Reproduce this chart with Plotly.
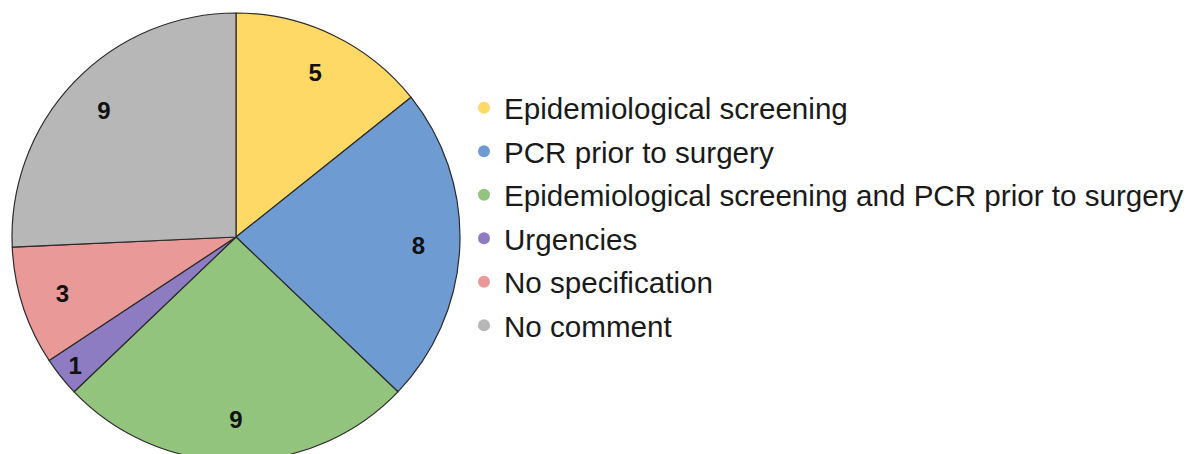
import plotly.graph_objects as go

categories = [
    "Epidemiological screening",
    "PCR prior to surgery",
    "Epidemiological screening and PCR prior to surgery",
    "Urgencies",
    "No specification",
    "No comment",
]
values = [5, 8, 9, 1, 3, 9]
colors = ["#FFD966", "#6F9BD3", "#93C47D", "#8E7CC3", "#EA9999", "#B7B7B7"]

W, H = 1192, 454
# pie geometry in figure pixels (page has an 8px body margin)
cx, cy, R = 228, 229, 224
pie_domain = dict(x=[(cx - R) / W, (cx + R) / W], y=[1 - (cy + R) / H, 1 - (cy - R) / H])

fig = go.Figure()
# the filled pie with outlines
fig.add_trace(go.Pie(
    labels=categories,
    values=values,
    marker=dict(colors=colors, line=dict(color="#2b2b2b", width=1.2)),
    sort=False,
    direction="clockwise",
    rotation=0,
    textinfo="none",
    showlegend=False,
    hoverinfo="label+value",
    domain=pie_domain,
))
# same values, drawn as a transparent ring, only to place value labels at ~0.8 R
fig.add_trace(go.Pie(
    labels=categories,
    values=values,
    hole=0.63,
    marker=dict(colors=["rgba(0,0,0,0)"] * len(values), line=dict(width=0)),
    sort=False,
    direction="clockwise",
    rotation=0,
    textinfo="value",
    texttemplate="<b>%{value}</b>",
    textposition="inside",
    insidetextorientation="horizontal",
    textfont=dict(family="Liberation Sans, Arial", size=24, color="#111111"),
    showlegend=False,
    hoverinfo="skip",
    domain=pie_domain,
))

for i, (name, col) in enumerate(zip(categories, colors)):
    fig.add_trace(go.Scatter(
        x=[0], y=[0], mode="markers", name=name,
        legendgroup=f"g{i}",
        marker=dict(symbol="circle", size=13, color=col),
        hoverinfo="skip",
        showlegend=True,
    ))

fig.update_layout(
    width=W, height=H,
    margin=dict(l=0, r=0, t=0, b=0),
    paper_bgcolor="white", plot_bgcolor="rgba(0,0,0,0)",
    xaxis=dict(visible=False, range=[1, 2], domain=[0.99, 1.0]),
    yaxis=dict(visible=False, range=[1, 2], domain=[0.99, 1.0]),
    legend=dict(
        x=456 / W, y=1 - 74 / H, xanchor="left", yanchor="top",
        font=dict(family="Liberation Sans, Arial", size=29.6, color="#1a1a1a"),
        bgcolor="rgba(0,0,0,0)",
        tracegroupgap=2,
        itemsizing="constant",
    ),
)

fig.write_html("out.html")
